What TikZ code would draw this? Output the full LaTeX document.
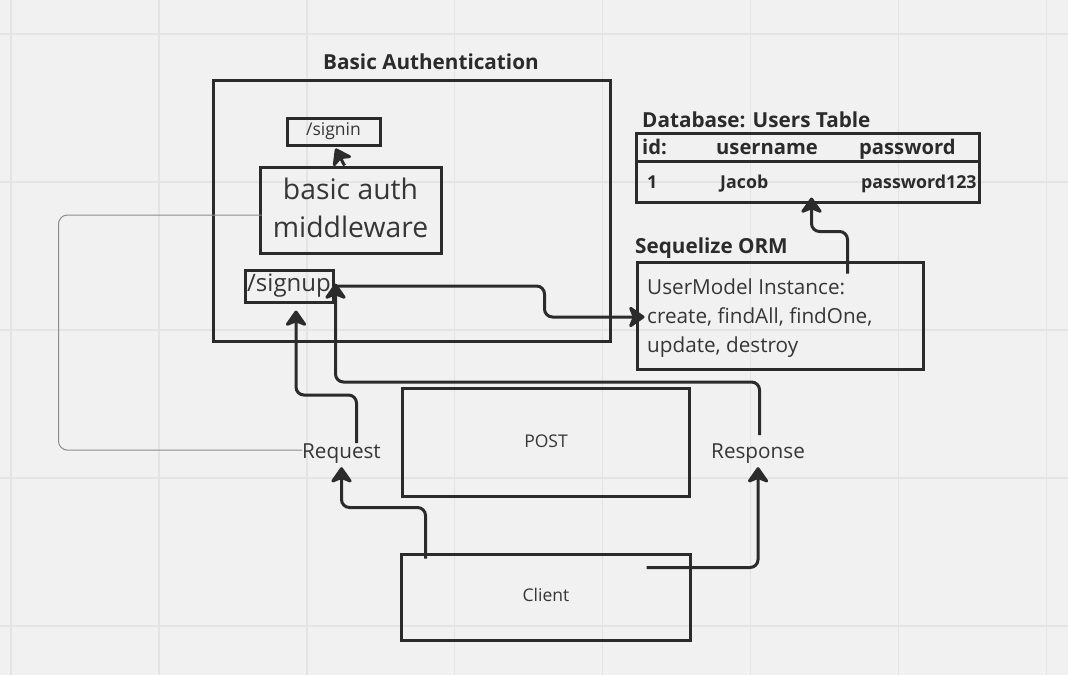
\documentclass[tikz,border=0pt]{standalone}
\usepackage{fontspec}
\setmainfont{Open Sans}
\usetikzlibrary{arrows.meta,calc}
\definecolor{bg}{HTML}{F1F1F1}
\definecolor{gridc}{HTML}{E4E4E4}
\definecolor{ink}{HTML}{2B2B2B}
\definecolor{txt}{HTML}{363636}
\definecolor{thinc}{HTML}{8C8C8C}
\tikzset{
  box/.style={draw=ink, line width=3pt, rectangle, inner sep=0pt, text=txt},
  conn/.style={draw=ink, line width=3pt, rounded corners=8pt, -{Stealth[length=18pt,width=25pt,inset=5pt,round]}},
  thinline/.style={draw=thinc, line width=1pt, rounded corners=9pt},
  gridline/.style={draw=gridc, line width=1.5pt},
  lbl/.style={inner sep=0pt, text=txt},
  ttl/.style={inner sep=0pt, text=ink, font=\bfseries\fontsize{20.7}{24}\selectfont},
  cell/.style={inner sep=0pt, text=ink, font=\bfseries\fontsize{20.2}{24}\selectfont},
  rowcell/.style={inner sep=0pt, text=ink, font=\bfseries\fontsize{17.8}{20}\selectfont},
  f17/.style={font=\fontsize{17.5}{20}\selectfont},
  f20/.style={font=\fontsize{20.7}{24}\selectfont},
}
\begin{document}
\begin{tikzpicture}[x=1pt,y=-1pt]
\fill[bg] (0,0) rectangle (1068,675);
\useasboundingbox (0,0) rectangle (1068,675);
% grid
\foreach \i in {0,...,7} \draw[gridline] ({11+147.9*\i},0) -- ({11+147.9*\i},675);
\foreach \j in {34,182,330,478,626} \draw[gridline] (0,\j) -- (1068,\j);

% Basic Authentication group
\node[ttl, anchor=base] (bauthttl) at (431,69) {Basic Authentication};
\node[box, minimum width=397pt, minimum height=261pt] (bauth) at (411.5,210.5) {};
\node[box, f17, minimum width=93pt, minimum height=27pt] (signin) at (333.5,131.5) {/signin};
\node[box, minimum width=181pt, minimum height=86pt] (mw) at (350.5,210) {};
\node[lbl, align=center, font=\fontsize{28.3}{38}\selectfont] (mwtext) at (350.5,207.5) {basic auth\\middleware};
\node[box, font=\fontsize{24}{28}\selectfont, minimum width=88pt, minimum height=32pt] (signup) at (289,286) {/signup};

% Database table
\node[ttl, anchor=base west] (dbttl) at (642,127) {Database: Users Table};
\node[box, minimum width=343pt, minimum height=28pt] (dbhead) at (807.5,147) {};
\node[box, minimum width=343pt, minimum height=41pt] (dbrow) at (807.5,181.5) {};
\node[cell, anchor=base west] (hid) at (642,154) {id:};
\node[cell, anchor=base west] (huser) at (716,154) {username};
\node[cell, anchor=base west] (hpass) at (859,154) {password};
\node[rowcell, anchor=base west] (rid) at (647,188) {1};
\node[rowcell, anchor=base west] (ruser) at (720,188) {Jacob};
\node[rowcell, anchor=base west] (rpass) at (861,188) {password123};

% Sequelize ORM
\node[ttl, anchor=base west] (ormttl) at (635,253) {Sequelize ORM};
\node[box, minimum width=286pt, minimum height=107pt] (orm) at (780,315.5) {};
\node[lbl, f20, anchor=base west] (orm1) at (647,294) {UserModel Instance:};
\node[lbl, f20, anchor=base west] (orm2) at (647,323) {create, findAll, findOne,};
\node[lbl, f20, anchor=base west] (orm3) at (647,352) {update, destroy};

% Request / Response / POST / Client
\node[lbl, f20, anchor=base west] (req) at (302,458) {Request};
\node[lbl, f20, anchor=base west] (resp) at (711,458) {Response};
\node[box, f17, minimum width=287pt, minimum height=108pt] (post) at (545.5,442.5) {};
\node[lbl, f17] (posttext) at (546,441) {POST};
\node[box, minimum width=289pt, minimum height=86pt] (client) at (545.5,597) {};
\node[lbl, f17] (clienttext) at (546,595) {Client};

% connectors
\draw[conn] ($(mw.north)+(-6,0)$) -- ($(signin.south)+(2,2)$);
\draw[conn] (signup.east) -- ++(210,0) |- ($(orm.west)+(9,1.5)$);
\draw[conn] ($(req.north)+(15,0)$) -- ++(0,-48) -| ($(signup.south)+(7,7)$);
\draw[conn] ($(resp.north)+(1.5,-8)$) -- ++(0,-53) -| ($(signup.south east)+(1,-20)$);
\draw[conn] ($(client.north west)+(26,6)$) -- ++(0,-51) -| ($(req.south)+(0,4)$);
\draw[conn] ($(client.north east)+(-45,15)$) -| ($(resp.south)+(0,4)$);
\draw[conn] ($(orm.north west)+(212,13)$) -- ++(0,-42) -| ($(dbrow.south west)+(177,-6)$);
\draw[thinline] ($(mw.west)+(3,5)$) -- ++(-203,0) |- ($(req.west)+(0,-3)$);
\end{tikzpicture}
\end{document}
